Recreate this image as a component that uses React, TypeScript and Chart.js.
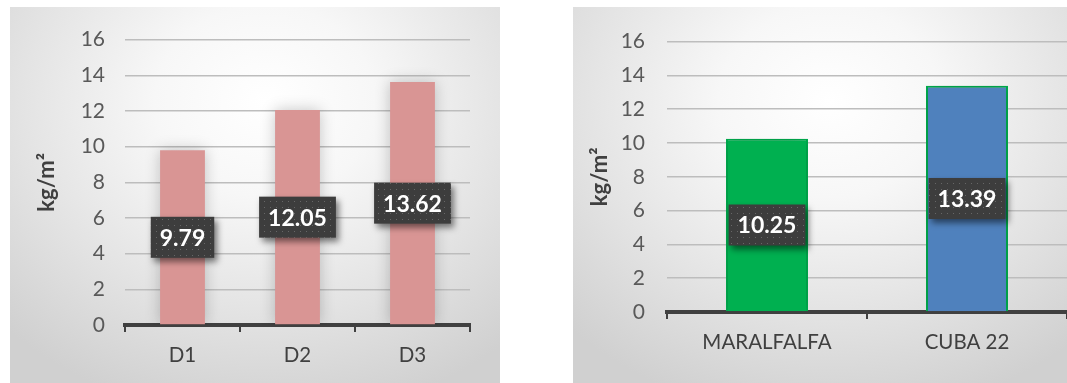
import React, { useEffect, useRef } from "react";
import { Chart, registerables } from "chart.js";

Chart.register(...registerables);

// Yield per plot (kg/m²)
const densityLabels = ["D1", "D2", "D3"];
const densityValues = [9.79, 12.05, 13.62];

const varietyLabels = ["MARALFALFA", "CUBA 22"];
const varietyValues = [10.25, 13.39];

const yMin = 0;
const yMax = 16;
const yStep = 2;
const yTitle = "kg/m²";

const FONT = "Lato, 'Open Sans', sans-serif";

// Dark dotted box used behind each value label
function makeDotPattern(ctx: CanvasRenderingContext2D) {
  const c = document.createElement("canvas");
  c.width = 6;
  c.height = 6;
  const p = c.getContext("2d")!;
  p.fillStyle = "#3d3d3d";
  p.fillRect(0, 0, 6, 6);
  p.fillStyle = "#676767";
  p.fillRect(2, 2, 1, 1);
  return ctx.createPattern(c, "repeat");
}

const barGlow = {
  id: "barGlow",
  beforeDatasetsDraw(chart: any) {
    const ctx = chart.ctx;
    ctx.save();
    ctx.shadowColor = "rgba(0,0,0,0.22)";
    ctx.shadowBlur = 14;
    ctx.shadowOffsetX = 0;
    ctx.shadowOffsetY = 0;
  },
  afterDatasetsDraw(chart: any) {
    chart.ctx.restore();
  },
};

const valueBoxes = {
  id: "valueBoxes",
  afterDatasetsDraw(chart: any) {
    const ctx: CanvasRenderingContext2D = chart.ctx;
    const meta = chart.getDatasetMeta(0);
    const data = chart.data.datasets[0].data as number[];
    const pattern = makeDotPattern(ctx);
    ctx.save();
    ctx.font = `bold 23px ${FONT}`;
    meta.data.forEach((bar: any, i: number) => {
      const text = data[i].toFixed(2);
      const w = ctx.measureText(text).width + 18;
      const h = 41;
      const cx = bar.x;
      const cy = (bar.y + bar.base) / 2;
      ctx.save();
      ctx.shadowColor = "rgba(0,0,0,0.5)";
      ctx.shadowBlur = 6;
      ctx.shadowOffsetX = 3;
      ctx.shadowOffsetY = 4;
      ctx.fillStyle = pattern || "#3d3d3d";
      ctx.fillRect(cx - w / 2, cy - h / 2, w, h);
      ctx.restore();
      ctx.fillStyle = "#ffffff";
      ctx.textAlign = "center";
      ctx.textBaseline = "middle";
      ctx.fillText(text, cx, cy + 1);
    });
    ctx.restore();
  },
};

type PanelProps = {
  labels: string[];
  values: number[];
  colors: string[];
  borderColors: string[];
  borderWidth: number;
  width: number;
  height: number;
  yWidth: number;
  titlePad: number;
  padTop: number;
  padRight: number;
  xHeight: number;
  barPct: number;
  tickPad: number;
};

function BarPanel(p: PanelProps) {
  const ref = useRef<HTMLCanvasElement>(null);
  useEffect(() => {
    const chart = new Chart(ref.current!, {
      type: "bar",
      data: {
        labels: p.labels,
        datasets: [
          {
            data: p.values,
            backgroundColor: p.colors,
            borderColor: p.borderColors,
            borderWidth: p.borderWidth,
            borderSkipped: "bottom",
            barPercentage: p.barPct,
            categoryPercentage: 1,
          },
        ],
      },
      options: {
        responsive: false,
        animation: false,
        layout: { padding: { left: 0, top: p.padTop, right: p.padRight, bottom: 0 } },
        plugins: { legend: { display: false }, tooltip: { enabled: false } },
        scales: {
          x: {
            grid: {
              display: true,
              drawOnChartArea: false,
              drawTicks: true,
              tickLength: 7,
              color: "#404040",
              lineWidth: 2,
              offset: true,
            },
            border: { display: true, color: "#404040", width: 4 },
            ticks: {
              color: "#404040",
              font: { family: FONT, size: 20.5 },
              padding: 11,
            },
            afterFit: (s: any) => {
              s.height = p.xHeight;
            },
          },
          y: {
            min: yMin,
            max: yMax,
            ticks: {
              stepSize: yStep,
              color: "#595959",
              font: { family: FONT, size: 21 },
              padding: p.tickPad,
            },
            grid: { color: "#bdbdbd", lineWidth: 1.5, drawTicks: false },
            border: { display: false },
            title: {
              display: true,
              text: yTitle,
              color: "#404040",
              font: { family: FONT, size: 22, weight: "bold" },
              padding: { top: p.titlePad, bottom: 0 },
            },
            afterFit: (s: any) => {
              s.width = p.yWidth;
            },
          },
        },
      },
      plugins: [barGlow, valueBoxes],
    });
    return () => chart.destroy();
  }, []);
  return (
    <canvas
      ref={ref}
      width={p.width}
      height={p.height}
      style={{ width: p.width, height: p.height, display: "block" }}
    />
  );
}

const panelBg =
  "radial-gradient(ellipse 75% 85% at 52% 25%, #ffffff 0%, #f7f7f7 30%, #e4e4e4 65%, #d0d0d0 100%)";

export default function App() {
  return (
    <div
      style={{
        position: "fixed",
        left: 0,
        top: 0,
        width: 1067,
        height: 383,
        background: "#ffffff",
        overflow: "hidden",
      }}
    >
      <div
        style={{
          position: "absolute",
          left: 10,
          top: 7,
          width: 490,
          height: 376,
          background: panelBg,
        }}
      >
        <BarPanel
          labels={densityLabels}
          values={densityValues}
          colors={["#d99594", "#d99594", "#d99594"]}
          borderColors={["#d99594", "#d99594", "#d99594"]}
          borderWidth={0}
          width={490}
          height={376}
          yWidth={115}
          titlePad={24}
          padTop={30}
          padRight={30}
          xHeight={58}
          barPct={0.39}
          tickPad={20}
        />
      </div>
      <div
        style={{
          position: "absolute",
          left: 573,
          top: 7,
          width: 494,
          height: 376,
          background: panelBg,
        }}
      >
        <BarPanel
          labels={varietyLabels}
          values={varietyValues}
          colors={["#00b050", "#4f81bd"]}
          borderColors={["#00b050", "#00b050"]}
          borderWidth={2}
          width={494}
          height={376}
          yWidth={94}
          titlePad={14}
          padTop={15}
          padRight={0}
          xHeight={71}
          barPct={0.41}
          tickPad={22}
        />
      </div>
    </div>
  );
}
